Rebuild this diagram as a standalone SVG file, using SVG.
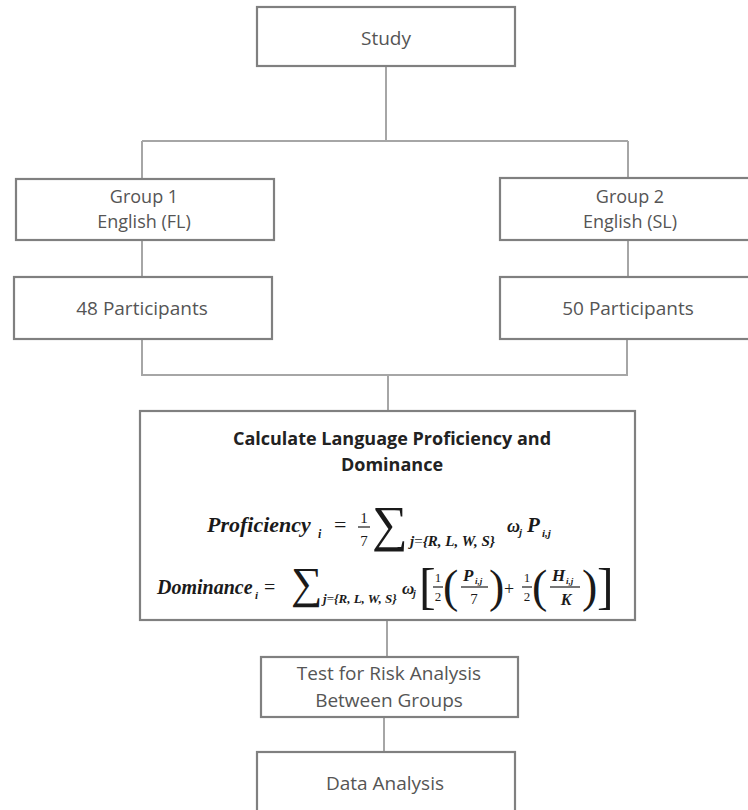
<svg xmlns="http://www.w3.org/2000/svg" width="748" height="810" viewBox="0 0 748 810">
<style>
.box{fill:#fff;stroke:#808080;stroke-width:2.2}
.con{fill:none;stroke:#a6a6a6;stroke-width:2}
.t{font-family:"Open Sans","Liberation Sans",sans-serif;fill:#555;text-anchor:middle}
.t19{font-size:19px}
.t18{font-size:18px}
.ttl{font-family:"Open Sans","Liberation Sans",sans-serif;font-weight:bold;font-size:18px;fill:#222;text-anchor:middle}
.m{font-family:"Liberation Serif","Times New Roman",serif;font-style:italic;font-weight:bold;fill:#1a1a1a}
.mr{font-family:"Liberation Serif","Times New Roman",serif;fill:#1a1a1a}
.bar{stroke:#1a1a1a;stroke-width:1.2}
</style>
<rect width="748" height="810" fill="#fff"/>
<g id="connectors">
<path class="con" d="M386 66V141M142 141H628M142 141V179M628 141V178"/>
<path class="con" d="M142 240V277M628 240V277"/>
<path class="con" d="M142 339V375H627V339M388 375V411"/>
<path class="con" d="M387 620V657"/>
<path class="con" d="M384 717V752"/>
</g>
<g id="study">
<rect class="box" x="257" y="7" width="258" height="59"/>
<text class="t t19" x="386" y="45">Study</text>
</g>
<g id="group1">
<rect class="box" x="16" y="179" width="258" height="61"/>
<text class="t t18" x="144" y="203">Group 1</text>
<text class="t t18" x="144" y="228">English (FL)</text>
</g>
<g id="group2">
<rect class="box" x="500" y="178" width="260" height="62"/>
<text class="t t18" x="630" y="203">Group 2</text>
<text class="t t18" x="630" y="228">English (SL)</text>
</g>
<g id="participants48">
<rect class="box" x="14" y="277" width="258" height="62"/>
<text class="t t19" x="142" y="315">48 Participants</text>
</g>
<g id="participants50">
<rect class="box" x="500" y="277" width="260" height="62"/>
<text class="t t19" x="628" y="315">50 Participants</text>
</g>
<g id="calculate">
<rect class="box" x="140" y="411" width="495" height="209"/>
<text class="ttl" x="392" y="445">Calculate Language Proficiency and</text>
<text class="ttl" x="392" y="471">Dominance</text>
<!-- Proficiency formula -->
<text class="m" x="207" y="532" font-size="22">Proficiency</text>
<text class="m" x="318" y="538" font-size="12">i</text>
<text class="mr" x="334" y="532" font-size="22">=</text>
<text class="mr" x="364" y="523" font-size="15" text-anchor="middle">1</text>
<line class="bar" x1="358" y1="527" x2="370" y2="527"/>
<text class="mr" x="364" y="546" font-size="15" text-anchor="middle">7</text>
<text class="mr" x="372" y="541" font-size="50">∑</text>
<text class="m" x="410" y="546" font-size="15">j<tspan class="mr" font-style="normal" font-weight="normal">=</tspan>{R, L, W, S}</text>
<text class="m" x="507" y="532" font-size="18">ω</text>
<text class="m" x="519" y="536" font-size="11">j</text>
<text class="m" x="527" y="532" font-size="21">P</text>
<text class="m" x="542" y="537" font-size="11">i,j</text>
<!-- Dominance formula -->
<text class="m" x="157" y="594" font-size="20">Dominance</text>
<text class="m" x="255" y="599" font-size="11">i</text>
<text class="mr" x="264" y="594" font-size="20">=</text>
<text class="mr" x="291" y="598" font-size="44">∑</text>
<text class="m" x="323" y="603" font-size="13">j<tspan class="mr" font-style="normal" font-weight="normal">=</tspan>{R, L, W, S}</text>
<text class="m" x="402" y="594" font-size="17">ω</text>
<text class="m" x="413" y="597" font-size="10">j</text>
<text class="mr" x="419" y="603" font-size="50">[</text>
<text class="mr" x="438" y="582" font-size="13" text-anchor="middle">1</text>
<line class="bar" x1="433" y1="587" x2="443" y2="587"/>
<text class="mr" x="438" y="601" font-size="13" text-anchor="middle">2</text>
<text class="mr" x="443" y="602" font-size="46">(</text>
<text class="m" x="463" y="581" font-size="17">P</text>
<text class="m" x="475" y="584" font-size="9">i,j</text>
<line class="bar" x1="461" y1="587" x2="488" y2="587"/>
<text class="mr" x="474" y="604" font-size="15" text-anchor="middle">7</text>
<text class="mr" x="489" y="602" font-size="46">)</text>
<text class="mr" x="504" y="595" font-size="18">+</text>
<text class="mr" x="527" y="582" font-size="13" text-anchor="middle">1</text>
<line class="bar" x1="522" y1="587" x2="532" y2="587"/>
<text class="mr" x="527" y="601" font-size="13" text-anchor="middle">2</text>
<text class="mr" x="532" y="602" font-size="46">(</text>
<text class="m" x="552" y="581" font-size="17">H</text>
<text class="m" x="566" y="584" font-size="9">i,j</text>
<line class="bar" x1="550" y1="587" x2="580" y2="587"/>
<text class="m" x="566" y="605" font-size="16" text-anchor="middle">K</text>
<text class="mr" x="582" y="602" font-size="46">)</text>
<text class="mr" x="597" y="603" font-size="50">]</text>
</g>
<g id="test">
<rect class="box" x="261" y="657" width="257" height="60"/>
<text class="t t19" x="389" y="680">Test for Risk Analysis</text>
<text class="t t19" x="389" y="707">Between Groups</text>
</g>
<g id="data">
<rect class="box" x="257" y="752" width="258" height="70"/>
<text class="t t19" x="385" y="790">Data Analysis</text>
</g>
</svg>
